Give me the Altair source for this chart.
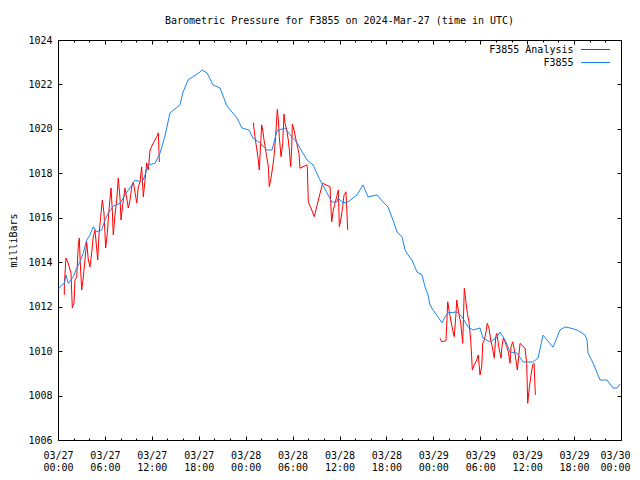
import altair as alt
import pandas as pd

TITLE = "Barometric Pressure for F3855 on 2024-Mar-27 (time in UTC)"
Y_TITLE = "milliBars"
START = "2024-03-27T00:00:00Z"
LEGEND = ["F3855 Analysis", "F3855"]
COLORS = ["#ff0000", "#1a86f0"]

# hours since START, pressure in mb
blue_h = [0.04, 0.47, 0.81, 1.02, 1.32, 1.96, 2.39, 2.81, 3.24, 3.67,
          4.09, 4.51, 4.95, 5.59, 6.01, 6.43, 7.07, 7.93, 8.57, 9.43,
          9.85, 10.49, 10.91, 11.55, 12.41, 13.04, 13.68,
          14.32, 15.60, 15.99, 16.63, 18.16, 18.42, 19.06, 19.82, 20.72, 21.61,
          22.25, 22.89, 23.53, 24.43, 24.94, 25.83, 26.73, 27.37, 28.01, 29.03,
          29.67, 30.57, 31.85, 32.61, 33.51, 34.40, 35.04, 35.68, 35.81, 36.45,
          37.09, 38.24, 39.01, 39.65, 40.16, 40.80, 41.57, 42.20, 42.84, 43.36,
          44.00, 44.38, 44.76, 45.27, 45.91, 46.55, 46.94, 47.32, 47.57, 47.96,
          48.60, 49.11, 49.49, 49.88, 51.03, 51.67, 52.44, 53.07, 53.97, 54.35,
          55.25, 56.14, 56.53, 57.17, 57.81, 58.70, 59.47, 60.75, 61.39, 62.03,
          62.54, 63.31, 64.20, 64.84, 65.48, 66.38, 67.02, 67.40, 67.66, 67.78,
          68.42, 69.32, 70.21, 70.98, 71.49, 71.87]
blue_mb = [1012.78, 1012.98, 1013.05, 1013.43, 1013.05, 1013.35, 1013.73, 1014.02, 1014.42, 1015.00,
           1015.22, 1015.60, 1015.37, 1015.45, 1015.90, 1016.20, 1016.53, 1016.65, 1017.02, 1017.47,
           1017.70, 1017.62, 1017.70, 1018.38, 1018.45, 1018.90, 1019.68,
           1020.72, 1021.08, 1021.66, 1022.20, 1022.56, 1022.65, 1022.52, 1021.98, 1021.84, 1021.03,
           1020.76, 1020.49, 1020.04, 1019.95, 1019.59, 1019.37, 1019.05, 1019.05, 1019.91, 1020.04,
           1019.73, 1019.37, 1018.60, 1018.38, 1017.70, 1017.12, 1016.71, 1016.71, 1016.89, 1016.67,
           1016.71, 1017.03, 1017.48, 1016.94, 1016.98, 1017.03, 1016.71, 1016.49, 1015.90, 1015.36,
           1015.14, 1014.55, 1014.33, 1014.10, 1013.56, 1013.43, 1012.89, 1012.53, 1012.08, 1011.85,
           1011.54, 1011.27, 1011.54, 1011.72, 1011.76, 1011.54, 1011.09, 1010.95, 1011.04, 1010.59,
           1010.41, 1010.63, 1010.86, 1010.50, 1009.96, 1009.91, 1009.51, 1009.51, 1009.69, 1010.72,
           1010.50, 1010.18, 1010.95, 1011.09, 1011.04, 1010.95, 1010.81, 1010.72, 1010.50, 1009.91,
           1009.47, 1008.70, 1008.70, 1008.34, 1008.34, 1008.52]

red1_h = [0.81, 0.81, 1.02, 1.34, 1.66, 1.83, 2.05, 2.17, 2.39, 2.60,
          2.72, 2.85, 3.03, 3.24, 3.45, 3.67, 3.88, 4.09, 4.31, 4.51,
          4.73, 5.08, 5.24, 5.46, 5.67, 5.88, 6.10, 6.31, 6.52, 6.78,
          6.94, 7.07, 7.29, 7.51, 7.71, 7.93, 8.06, 8.27, 8.57, 8.99,
          9.21, 9.43, 9.63, 10.07, 10.27, 10.49, 10.70, 10.91, 11.13, 11.34,
          11.55, 11.77, 12.19, 12.62, 12.83, 12.96]
red1_mb = [1012.53, 1012.98, 1014.19, 1013.92, 1013.52, 1011.94, 1012.17, 1013.20, 1013.34, 1014.78,
           1015.09, 1013.97, 1012.75, 1013.34, 1014.10, 1014.91, 1014.10, 1013.79, 1014.42, 1015.14,
           1015.45, 1014.10, 1015.23, 1016.04, 1016.80, 1016.22, 1014.64, 1015.32, 1016.35, 1017.34,
           1016.35, 1015.23, 1016.13, 1016.80, 1017.79, 1016.89, 1015.90, 1016.58, 1017.34, 1016.44,
           1016.80, 1017.39, 1017.61, 1016.67, 1017.39, 1017.61, 1018.29, 1016.94, 1017.70, 1018.47,
           1018.15, 1019.05, 1019.37, 1019.64, 1019.82, 1018.51]

red2_h = [24.98, 25.19, 25.62, 25.74, 26.05, 26.18, 26.35, 26.69, 26.90, 27.02,
          27.20, 27.46, 27.62, 27.75, 27.88, 28.05, 28.18, 28.30, 28.52, 28.74,
          28.90, 29.03, 29.25, 29.45, 29.58, 29.76, 29.89, 29.97, 30.18, 30.53,
          30.82, 30.95, 31.81, 31.88, 32.01, 32.45, 32.78, 33.09, 33.51, 33.85,
          34.79, 34.88, 35.00, 35.21, 35.64, 35.85, 35.98, 36.16, 36.41, 36.58,
          36.83, 37.05]
red2_mb = [1020.28, 1019.65, 1018.60, 1018.15, 1020.18, 1019.95, 1019.50, 1018.75, 1018.30, 1017.40,
           1017.70, 1018.30, 1018.75, 1019.28, 1019.95, 1020.88, 1020.40, 1019.65, 1018.75, 1019.35,
           1020.67, 1020.25, 1019.95, 1019.50, 1019.05, 1018.30, 1019.20, 1020.22, 1019.95, 1019.35,
           1018.90, 1018.23, 1018.38, 1018.30, 1016.72, 1016.35, 1016.05, 1016.50, 1017.10, 1017.55,
           1017.40, 1016.65, 1015.82, 1016.35, 1016.95, 1017.25, 1015.60, 1015.90, 1016.50, 1017.03,
           1017.17, 1015.45]

red3_h = [48.85, 49.07, 49.62, 49.84, 50.04, 50.22, 50.48, 50.68, 50.90, 50.99,
          51.19, 51.50, 51.76, 51.96, 52.14, 52.35, 52.56, 52.78, 52.99, 53.24,
          53.55, 53.75, 53.97, 54.19, 54.32, 54.52, 54.74, 54.90, 55.12, 55.34,
          55.54, 55.80, 55.98, 56.11, 56.31, 56.44, 56.66, 56.75, 56.95, 57.17,
          57.38, 57.59, 57.81, 57.94, 58.15, 58.32, 58.57, 58.74, 59.09, 59.73,
          59.94, 60.07, 60.24, 60.49, 60.71, 60.88, 61.05]
red3_mb = [1010.58, 1010.42, 1010.47, 1012.22, 1011.77, 1011.40, 1010.95, 1010.65, 1011.70, 1012.30,
           1011.85, 1011.25, 1010.35, 1012.83, 1012.30, 1011.70, 1011.32, 1010.50, 1009.15, 1009.38,
           1009.60, 1009.83, 1008.93, 1009.30, 1010.35, 1010.50, 1010.87, 1011.25, 1011.03, 1010.50,
           1010.20, 1009.68, 1010.65, 1010.80, 1010.35, 1010.05, 1009.68, 1010.13, 1010.58, 1010.42,
           1010.20, 1009.97, 1009.45, 1010.20, 1010.42, 1010.13, 1009.60, 1009.15, 1010.35, 1010.13,
           1009.45, 1007.65, 1008.25, 1008.93, 1009.38, 1009.45, 1008.03]

y_ticks = [1006, 1008, 1010, 1012, 1014, 1016, 1018, 1020, 1022, 1024]
x_major_h = [0, 6, 12, 18, 24, 30, 36, 42, 48, 54, 60, 66, 72]
x_minor_h = list(range(0, 73, 2))
X_SPAN_H = 72

FONT = "DejaVu Sans Mono"
W, H = 563, 400

t0 = pd.Timestamp(START).value // 10**6


def ms(hours):
    return [t0 + int(round(h * 3600000)) for h in hours]


blue = pd.DataFrame({"t": ms(blue_h), "p": blue_mb, "i": range(len(blue_h))})
red_parts = []
for k, (hh, pp) in enumerate([(red1_h, red1_mb), (red2_h, red2_mb), (red3_h, red3_mb)]):
    red_parts.append(pd.DataFrame({"t": ms(hh), "p": pp, "seg": k, "i": range(len(hh))}))
red = pd.concat(red_parts, ignore_index=True)

xscale = alt.Scale(type="utc", domain=[t0, t0 + X_SPAN_H * 3600000], nice=False)
yscale = alt.Scale(domain=[y_ticks[0], y_ticks[-1]], nice=False, zero=False)

major_test = "utchours(datum.value) % 6 === 0"
xtick_size = {"condition": {"test": major_test, "value": 4}, "value": 2}
t_end = ms([X_SPAN_H])[0]
last_label_shift = {"condition": {"test": f"datum.value >= {t_end}", "value": -6}, "value": 0}

# Layer 1: red analysis (inner ticks on bottom & left edges)
red_layer = alt.Chart(red).mark_line(strokeWidth=1).encode(
    x=alt.X("t:T", scale=xscale, axis=alt.Axis(
        orient="top", offset=-H, values=ms(x_minor_h), tickSize=xtick_size,
        tickColor="black", labels=False, domain=False, grid=False, title=None)),
    y=alt.Y("p:Q", scale=yscale, axis=alt.Axis(
        orient="right", offset=-W, values=y_ticks, tickSize=4,
        tickColor="black", labels=False, domain=False, grid=False, title=None)),
    color=alt.value(COLORS[0]),
    detail="seg:N",
    order="i:Q",
)

# Layer 2: blue observed (labelled axes)
blue_layer = alt.Chart(blue).mark_line(strokeWidth=1).encode(
    x=alt.X("t:T", scale=xscale, axis=alt.Axis(
        orient="bottom", values=ms(x_major_h),
        labelExpr="[utcFormat(datum.value, '%m/%d'), utcFormat(datum.value, '%H:%M')]",
        ticks=False, tickSize=0, domain=False, grid=False, title=None,
        labelFont=FONT, labelFontSize=10, labelColor="black", labelPadding=10,
        labelLineHeight=12, labelFlush=False, labelOverlap=False, labelBound=False,
        labelOffset=last_label_shift)),
    y=alt.Y("p:Q", scale=yscale, axis=alt.Axis(
        orient="left", values=y_ticks, format="d", ticks=False, tickSize=0,
        domain=False, grid=False,
        labelFont=FONT, labelFontSize=10, labelColor="black", labelPadding=6,
        title=Y_TITLE, titleFont=FONT, titleFontSize=10, titleFontWeight="normal",
        titleColor="black", titleAngle=270, titleX=-45, titleY=H / 2,
        titleBaseline="middle", titleAlign="center")),
    color=alt.value(COLORS[1]),
    order="i:Q",
)

# Layer 3: invisible copy carrying inner ticks on top & right edges
tick_layer = alt.Chart(blue).mark_point(opacity=0).encode(
    x=alt.X("t:T", scale=xscale, axis=alt.Axis(
        orient="bottom", offset=-H, values=ms(x_minor_h), tickSize=xtick_size,
        tickColor="black", labels=False, domain=False, grid=False, title=None)),
    y=alt.Y("p:Q", scale=yscale, axis=alt.Axis(
        orient="left", offset=-W, values=y_ticks, tickSize=4,
        tickColor="black", labels=False, domain=False, grid=False, title=None)),
)

# Legend (top-right, inside the frame)
legend_layers = []
for k, (lab, col) in enumerate(zip(LEGEND, COLORS)):
    ly = 9.5 + 13 * k
    d = pd.DataFrame({"label": [lab]})
    legend_layers.append(
        alt.Chart(d).mark_text(align="right", baseline="middle", font=FONT,
                               fontSize=10).encode(
            text="label:N", x=alt.value(515.5), y=alt.value(ly),
            color=alt.value("black")))
    legend_layers.append(
        alt.Chart(d).mark_rule(strokeWidth=1).encode(
            x=alt.value(523), x2=alt.value(552), y=alt.value(ly),
            color=alt.value(col)))

chart = alt.layer(red_layer, blue_layer, tick_layer, *legend_layers).resolve_axis(
    x="independent", y="independent"
).properties(
    width=W, height=H,
    title=alt.TitleParams(TITLE, font=FONT, fontSize=10, fontWeight="normal",
                          color="black", anchor="middle", baseline="middle", offset=4),
    autosize="none",
    padding={"left": 50, "top": 32, "right": 11, "bottom": 32},
    background="white",
).configure_view(stroke="black", strokeWidth=1)

chart.save("out.html", embed_options={"renderer": "svg", "actions": False})
